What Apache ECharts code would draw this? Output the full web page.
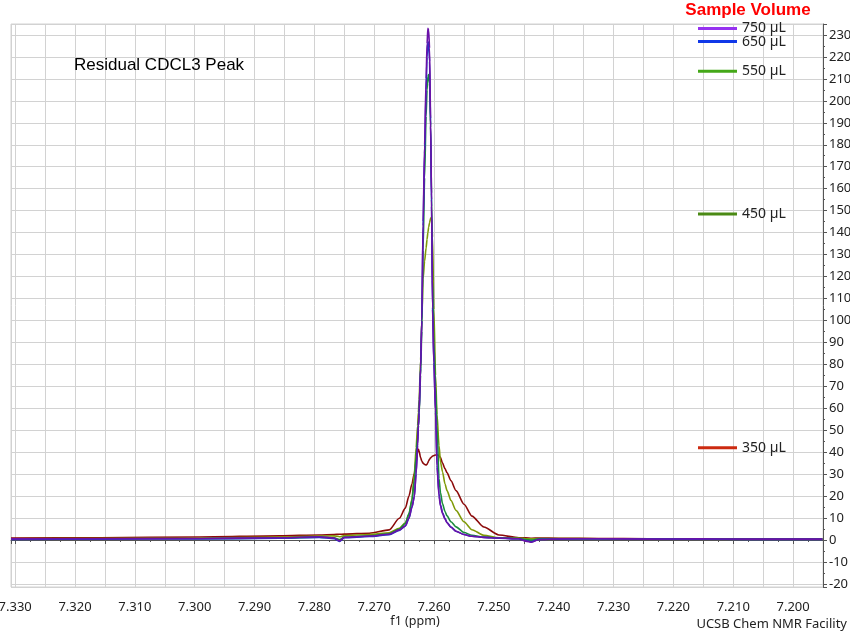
<!DOCTYPE html>
<html>
<head>
<meta charset="utf-8">
<script src="https://cdn.jsdelivr.net/npm/echarts@6/dist/echarts.min.js"></script>
<style>html,body{margin:0;padding:0;background:#fff}#c{width:850px;height:632px}</style>
</head>
<body>
<div id="c"></div>
<script>
// chemical shift grid (ppm)
const ppm = [7.3307, 7.3158, 7.2992, 7.2858, 7.2792, 7.2767, 7.2758, 7.2750, 7.2708, 7.2675,
  7.2658, 7.2648, 7.2642, 7.2637, 7.2633, 7.2630, 7.26275, 7.26262, 7.2625, 7.26225,
  7.26205, 7.26183, 7.26158, 7.26133, 7.26117, 7.26103, 7.2609, 7.26075, 7.26058, 7.26042,
  7.26025, 7.26003, 7.25975, 7.2595, 7.25917, 7.25892, 7.25858, 7.25817, 7.25783, 7.25717,
  7.25633, 7.2550, 7.25367, 7.25167, 7.24917, 7.24583, 7.24467, 7.24367, 7.2425, 7.23917,
  7.2325, 7.22417, 7.21583, 7.2075, 7.1951];
const int350 = [0.9, 1.0, 1.4, 1.9, 2.3, 2.5, 2.6, 2.7, 3.1, 4.6, 9.9, 14.5, 20, 25.5, 30.4, 35.5, 40, 41.3, 40.5, 37.5,
  36, 35, 34.4, 34.2, 34.5, 35.2, 36, 36.8, 37.4, 37.8, 38.2, 38.5, 38.7, 38.8, 38.4, 37.5, 35, 32.5, 30.6, 27,
  22.5, 16.3, 10.9, 5.9, 2.3, 1.0, 1.0, 0.8, 0.9, 0.8, 0.7, 0.6, 0.6, 0.5, 0.5];
const int450 = [0.6, 0.7, 0.9, 1.3, 1.8, 1.9, 1.5, 2.0, 2.5, 3.3, 5.3, 7.8, 11.5, 18.5, 30, 42, 52, 58, 64, 82,
  100, 119, 127, 133, 137, 140, 142.5, 144.5, 146.5, 147, 138, 105, 75, 57, 43, 35.5, 31, 25.5, 22.5, 18,
  13.5, 8.3, 4.7, 2.1, 1.0, 0.9, 0.6, 0.5, 0.7, 0.7, 0.6, 0.5, 0.5, 0.4, 0.4];
const int550 = [0.4, 0.5, 0.6, 0.9, 1.3, 1.0, 0.2, 1.3, 1.9, 2.8, 5.0, 7.5, 12, 18, 27, 38, 47, 52, 57, 75,
  95, 132, 165, 193, 205, 211, 212, 208, 188, 158, 118, 90, 70, 52, 28, 21.5, 16.5, 13, 11, 8.3,
  6.0, 3.4, 2.2, 1.3, 1.0, 0.7, 0.2, 0.0, 0.5, 0.6, 0.6, 0.5, 0.5, 0.4, 0.4];
const int650 = [0.3, 0.4, 0.5, 0.8, 1.2, 0.6, -0.6, 1.0, 1.6, 2.4, 4.4, 6.3, 9.8, 14.8, 19.8, 30.5, 44, 52, 58, 79,
  100, 143, 176, 205, 220, 227, 226, 218, 189, 152, 106, 81, 59, 34, 21, 16, 12.5, 9.8, 8.0, 5.9,
  4.0, 2.5, 1.7, 1.2, 0.8, 0.5, -0.3, -0.8, 0.3, 0.4, 0.5, 0.4, 0.4, 0.3, 0.3];
const int750 = [0.5, 0.6, 0.7, 1.0, 1.5, 0.9, -0.4, 1.2, 1.8, 2.6, 4.6, 6.5, 10, 15, 19.7, 30, 43, 52, 58, 78,
  100, 145, 180, 210, 226, 233, 232, 224, 192, 155, 105, 80, 58, 33, 20, 15.5, 12, 9.5, 7.8, 5.8,
  4.0, 2.5, 1.7, 1.2, 0.9, 0.6, -0.5, -1.0, 0.2, 0.5, 0.6, 0.4, 0.5, 0.4, 0.4];

const seriesNames = ['350 µL', '450 µL', '550 µL', '650 µL', '750 µL'];
const seriesData = [int350, int450, int550, int650, int750];
const lineColors = ['#8b0a0a', '#7f9a08', '#1a8c3c', '#2038c8', '#6a12a8'];
const legendColors = ['#cc2a10', '#4a8a14', '#44a818', '#1038e8', '#9632f0'];
const legendLevels = [42, 148.5, 213.5, 227, 233];

const chart = echarts.init(document.getElementById('c'), null, {renderer: 'canvas'});
const tickFont = 'Noto Sans';

chart.setOption({
  animation: false,
  backgroundColor: '#fff',
  grid: {left: 11, right: 27, top: 24, bottom: 45, show: true, borderColor: '#d2d2d2', borderWidth: 1,
    containLabel: false, outerBoundsMode: 'none'},
  xAxis: {
    type: 'value', inverse: true, min: 7.195, max: 7.3307, interval: 0.005,
    position: 'bottom', offset: 5,
    axisLine: {show: true, lineStyle: {color: '#555', width: 1}},
    axisTick: {show: true, length: 4, lineStyle: {color: '#555'}},
    minorTick: {show: true, splitNumber: 2, length: 2, lineStyle: {color: '#555'}},
    splitLine: {show: true, lineStyle: {color: '#d2d2d2', width: 1}},
    axisLabel: {
      margin: 9, color: '#222', fontSize: 13, fontFamily: tickFont, hideOverlap: false,
      formatter: v => { const k = Math.round(v * 1000); return (k % 10 === 0 && Math.abs(v * 1000 - k) < 1e-6) ? v.toFixed(3) : ''; }
    }
  },
  yAxis: {
    type: 'value', position: 'right', min: -21.4, max: 235, splitNumber: 25, minInterval: 10, maxInterval: 10,
    axisLine: {show: true, lineStyle: {color: '#555', width: 1}},
    axisTick: {show: true, length: 4, lineStyle: {color: '#555'}},
    minorTick: {show: true, splitNumber: 2, length: 2, lineStyle: {color: '#555'}},
    splitLine: {show: true, lineStyle: {color: '#d2d2d2', width: 1}},
    axisLabel: {
      margin: 6, color: '#222', fontSize: 13, fontFamily: tickFont,
      formatter: v => (Math.abs(v - Math.round(v / 10) * 10) < 1e-6) ? String(Math.round(v)) : ''
    }
  },
  series: seriesData.map((vals, i) => ({
    name: seriesNames[i], type: 'line', showSymbol: false, smooth: 0.25, smoothMonotone: 'x',
    lineStyle: {color: lineColors[i], width: 1.6},
    itemStyle: {color: lineColors[i]},
    data: ppm.map((x, j) => [x, vals[j]])
  }))
});

const legendGraphics = legendLevels.map((lv, i) => {
  const y = chart.convertToPixel({yAxisIndex: 0}, lv);
  return [
    {type: 'line', shape: {x1: 698, y1: y, x2: 737, y2: y}, style: {stroke: legendColors[i], lineWidth: 3}},
    {type: 'text', x: 742, y: y, style: {text: seriesNames[i], fill: '#222', font: '14px "Noto Sans"', textVerticalAlign: 'middle'}}
  ];
}).flat();

chart.setOption({
  graphic: [
    {type: 'text', x: 748, y: 10, style: {text: 'Sample Volume', fill: '#ff0000', font: 'bold 17px "Liberation Sans"', textAlign: 'center', textVerticalAlign: 'middle'}},
    {type: 'text', x: 74, y: 65, style: {text: 'Residual CDCL3 Peak', fill: '#000', font: '17px "Liberation Sans"', textVerticalAlign: 'middle'}},
    {type: 'text', x: 415, y: 621, style: {text: 'f1 (ppm)', fill: '#222', font: '12.5px "Noto Sans"', textAlign: 'center', textVerticalAlign: 'middle'}},
    {type: 'text', x: 847, y: 624, style: {text: 'UCSB Chem NMR Facility', fill: '#222', font: '13px "Noto Sans"', textAlign: 'right', textVerticalAlign: 'middle'}}
  ].concat(legendGraphics)
});
</script>
</body>
</html>
